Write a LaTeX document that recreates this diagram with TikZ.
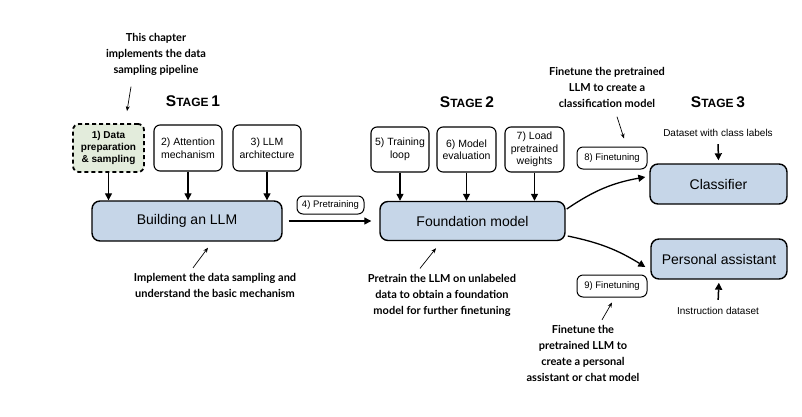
\documentclass[tikz,border=0pt]{standalone}
\usepackage{fontspec}
\setmainfont{Liberation Sans}
\newfontfamily\notefont{Lato}
\usetikzlibrary{arrows.meta,positioning,calc}
\definecolor{boxblue}{HTML}{C6D6E8}
\definecolor{boxgreen}{HTML}{E3ECDC}
\tikzset{
  step box/.style={draw, rounded corners=6pt, line width=1.1pt, align=center, inner sep=0pt, font=\fontsize{10.5}{12.5}\selectfont},
  main box/.style={draw, rounded corners=8pt, line width=1.4pt, fill=boxblue, inner sep=0pt, font=\fontsize{14}{16}\selectfont},
  tag box/.style={draw, rounded corners=6pt, line width=1pt, inner sep=0pt, font=\fontsize{9.5}{10}\selectfont},
  note/.style={align=center, font=\notefont\bfseries\fontsize{11}{16}\selectfont},
  note arrow/.style={-{Stealth[length=5pt,width=4pt]}, line width=0.7pt},
  conn/.style={-{Triangle[length=7pt,width=7pt]}, line width=1.3pt},
  stage/.style={font=\bfseries}
}
\newcommand{\stagelabel}[1]{{\fontsize{15.5}{15}\selectfont S}{\fontsize{12}{15}\selectfont TAGE} {\fontsize{15.5}{15}\selectfont #1}}

\begin{document}
\begin{tikzpicture}[x=1pt, y=-1pt]
  \useasboundingbox (0,0) rectangle (802,416);

  % stage headings
  \node[stage] (s1) at (193,101) {\stagelabel{1}};
  \node[stage] (s2) at (467,102) {\stagelabel{2}};
  \node[stage] (s3) at (718,102) {\stagelabel{3}};

  % stage 1
  \node[step box, fill=boxgreen, dash pattern=on 4pt off 3pt, line width=1.8pt, font=\bfseries\fontsize{10}{12}\selectfont, minimum width=71pt, minimum height=48pt] (data) at (108.5,148) {1) Data\\preparation\\\& sampling};
  \node[step box, minimum width=68pt, minimum height=46pt] (attn) at (188,148) {2) Attention\\mechanism};
  \node[step box, minimum width=68pt, minimum height=46pt] (arch) at (267,148) {3) LLM\\architecture};
  \node[main box, minimum width=190pt, minimum height=40pt] (build) at (187,221) {Building an LLM};

  \draw[conn] (data.south) -- (data.south |- build.north);
  \draw[conn] (attn.south) -- (attn.south |- build.north);
  \draw[conn] (arch.south) -- (arch.south |- build.north);

  % stage 2
  \node[step box, minimum width=58pt, minimum height=45pt] (loop) at (400,149.5) {5) Training\\loop};
  \node[step box, minimum width=59pt, minimum height=45pt] (eval) at (466.5,149.5) {6) Model\\evaluation};
  \node[step box, minimum width=59pt, minimum height=45pt] (load) at (534.5,149.5) {7) Load\\pretrained\\weights};
  \node[main box, minimum width=185pt, minimum height=39pt] (found) at (472.5,221) {Foundation model};

  \draw[conn] (loop.south) -- (loop.south |- found.north);
  \draw[conn] (eval.south) -- (eval.south |- found.north);
  \draw[conn] (load.south) -- (load.south |- found.north);

  \draw[conn, shorten <=6pt, shorten >=8pt] (build) -- (found);
  \node[tag box, minimum width=67pt, minimum height=18pt] (pre) at (330.5,205) {4) Pretraining};

  % stage 3
  \node[main box, minimum width=137pt, minimum height=40pt] (cls) at (718.5,184) {Classifier};
  \node[main box, minimum width=136pt, minimum height=40pt] (pa) at (719,259) {Personal assistant};
  \node[tag box, minimum width=70pt, minimum height=22pt] (ft8) at (612,158) {8) Finetuning};
  \node[tag box, minimum width=70pt, minimum height=22pt] (ft9) at (612,286) {9) Finetuning};

  \draw[conn] ($(found.east)+(1pt,12pt)$) to[bend left=12] ($(cls.west)+(-4pt,7pt)$);
  \draw[conn] ($(found.east)+(2pt,-15pt)$) to[bend left=10] ($(pa.west)+(-5pt,-8pt)$);

  \node[font=\fontsize{10}{11}\selectfont] (ds1) at (718,133) {Dataset with class labels};
  \node[font=\fontsize{10}{11}\selectfont] (ds2) at (718,311) {Instruction dataset};
  \draw[conn, line width=1.5pt, shorten <=4pt, shorten >=3pt] (ds1.south) -- (cls.north);
  \draw[conn, line width=1.5pt, shorten <=4pt, shorten >=3pt] (ds2.north) -- (pa.south);

  % notes
  \node[note] (n1) at (156,54) {This chapter\\implements the data\\sampling pipeline};
  \node[note] (n2) at (215,285.5) {Implement the data sampling and\\understand the basic mechanism};
  \node[note] (n3) at (442,295) {Pretrain the LLM on unlabeled\\data to obtain a foundation\\model for further finetuning};
  \node[note] (n4) at (607,87) {Finetune the pretrained\\LLM to create a\\classification model};
  \node[note] (n5) at (583,353.5) {Finetune the\\pretrained LLM to\\create a personal\\assistant or chat model};

  \draw[note arrow] ([xshift=-25pt,yshift=-8pt]n1.south) -- ([xshift=18.5pt,yshift=12pt]data.north);
  \draw[note arrow] ([xshift=-22pt,yshift=2pt]n2.north) -- ([xshift=21pt,yshift=-6pt]build.south);
  \draw[note arrow] ([xshift=-22pt,yshift=2pt]n3.north) -- ([xshift=-36.5pt,yshift=-7pt]found.south);
  \draw[note arrow] ([xshift=10pt,yshift=-6pt]n4.south) -- ([xshift=12pt,yshift=8pt]ft8.north);
  \draw[note arrow] ([xshift=19pt,yshift=2pt]n5.north) -- ([xshift=0pt,yshift=-5pt]ft9.south);
\end{tikzpicture}
\end{document}
